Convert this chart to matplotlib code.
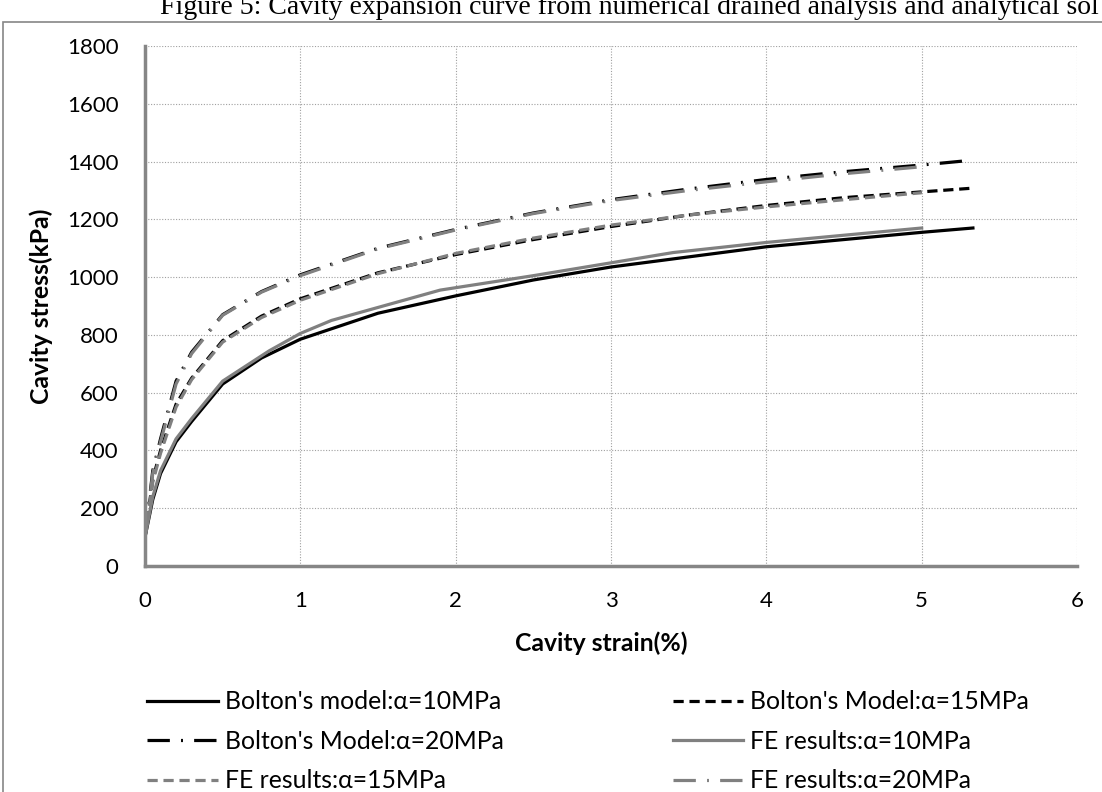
import numpy as np
import matplotlib
matplotlib.use("Agg")
import matplotlib.pyplot as plt
from matplotlib.patches import Rectangle

# strain (%) / stress (kPa)
bolton10_x = [0, 0.05, 0.1, 0.2, 0.3, 0.5, 0.75, 1.0, 1.5, 2.0, 2.5, 3.0, 3.5, 4.0, 4.5, 5.0, 5.33]
bolton10_y = [100, 230, 320, 430, 500, 630, 720, 785, 875, 935, 990, 1035, 1070, 1105, 1130, 1155, 1170]

fe10_x = [0, 0.05, 0.1, 0.2, 0.3, 0.5, 0.8, 1.0, 1.2, 1.9, 2.5, 3.4, 4.0, 5.0]
fe10_y = [100, 240, 330, 440, 510, 640, 745, 805, 850, 955, 1005, 1085, 1120, 1170]

bolton15_x = [0, 0.05, 0.1, 0.2, 0.3, 0.5, 0.75, 1.0, 1.5, 2.0, 2.5, 3.0, 3.5, 4.0, 4.5, 5.0, 5.33]
bolton15_y = [100, 300, 400, 560, 650, 780, 865, 925, 1015, 1078, 1130, 1175, 1215, 1248, 1275, 1295, 1308]

fe15_x = [0, 0.05, 0.1, 0.2, 0.3, 0.5, 0.75, 1.0, 1.5, 2.0, 2.5, 3.0, 3.5, 4.0, 4.5, 5.0]
fe15_y = [100, 290, 390, 550, 645, 775, 860, 920, 1012, 1082, 1135, 1180, 1215, 1243, 1268, 1292]

bolton20_x = [0, 0.05, 0.1, 0.2, 0.3, 0.5, 0.75, 1.0, 1.5, 2.0, 2.5, 3.0, 3.5, 4.0, 4.5, 5.0, 5.33]
bolton20_y = [100, 330, 440, 640, 740, 870, 950, 1008, 1100, 1165, 1222, 1268, 1305, 1338, 1365, 1388, 1405]

fe20_x = [0, 0.05, 0.1, 0.2, 0.3, 0.5, 0.75, 1.0, 1.5, 2.0, 2.5, 3.0, 3.5, 4.0, 4.5, 5.0]
fe20_y = [100, 320, 430, 630, 735, 868, 948, 1005, 1098, 1163, 1220, 1265, 1300, 1330, 1358, 1382]

labels = ["Bolton's model:\u03b1=10MPa", "Bolton's Model:\u03b1=15MPa", "Bolton's Model:\u03b1=20MPa",
          "FE results:\u03b1=10MPa", "FE results:\u03b1=15MPa", "FE results:\u03b1=20MPa"]

caption = "Figure 5: Cavity expansion curve from numerical drained analysis and analytical sol"

black = "#000000"
grey = "#808080"
lw = 2.3
dashed = (0, (3.2, 1.8))
dashdot = (0, (7, 3.5, 0.6, 3.5))

fig = plt.figure(figsize=(11.02, 7.92), dpi=100)
ax = fig.add_axes([145 / 1102, 1 - 566 / 792, (1077 - 145) / 1102, (566 - 46) / 792])

l1, = ax.plot(bolton10_x, bolton10_y, color=black, lw=lw, label=labels[0])
l2, = ax.plot(bolton15_x, bolton15_y, color=black, lw=lw, ls=dashed, label=labels[1])
l3, = ax.plot(bolton20_x, bolton20_y, color=black, lw=lw, ls=dashdot, label=labels[2])
l4, = ax.plot(fe10_x, fe10_y, color=grey, lw=lw, label=labels[3])
l5, = ax.plot(fe15_x, fe15_y, color=grey, lw=lw, ls=dashed, label=labels[4])
l6, = ax.plot(fe20_x, fe20_y, color=grey, lw=lw, ls=dashdot, label=labels[5])

ax.set_xlim(0, 6)
ax.set_ylim(0, 1800)
ax.set_xticks(range(0, 7))
ax.set_yticks(range(0, 1801, 200))
ax.grid(True, color="#a0a0a0", ls=(0, (1, 1.5)), lw=0.8)
ax.set_axisbelow(True)

for s in ["top", "right"]:
    ax.spines[s].set_visible(False)
for s in ["left", "bottom"]:
    ax.spines[s].set_color("#868686")
    ax.spines[s].set_linewidth(2.5)
ax.tick_params(length=0, labelsize=16, colors="black", labelfontfamily="Lato")
ax.tick_params(axis="y", pad=19)
ax.tick_params(axis="x", pad=18)

ax.set_xlabel("Cavity strain(%)", fontsize=17.8, fontweight="bold", family="Lato")
ax.set_ylabel("Cavity stress(kPa)", fontsize=17.8, fontweight="bold", family="Lato", labelpad=10)
ax.xaxis.set_label_coords(0.49, -0.125)

# legend: column-first order so rows read like the original
handles = [l1, l3, l5, l2, l4, l6]
fig.legend(handles, [h.get_label() for h in handles], ncol=2, frameon=False,
           loc="upper left", bbox_to_anchor=(125 / 1102, 1 - 668 / 792),
           prop={"family": "Lato", "size": 17.8}, handlelength=2.85, handletextpad=0.28,
           columnspacing=6.85, labelspacing=0.67)

# caption (cut at the top like the source crop), and the frame around the chart
fig.text(1099 / 1102, 1 - 14 / 792, caption,
         fontsize=20, family="Liberation Serif", va="baseline", ha="right")
fig.patches.append(Rectangle((3 / 1102, -0.1), 1.2, 1 - 22 / 792 + 0.1, transform=fig.transFigure,
                             fill=False, edgecolor="#868686", lw=1.2))

fig.savefig("out.png", dpi=100)
